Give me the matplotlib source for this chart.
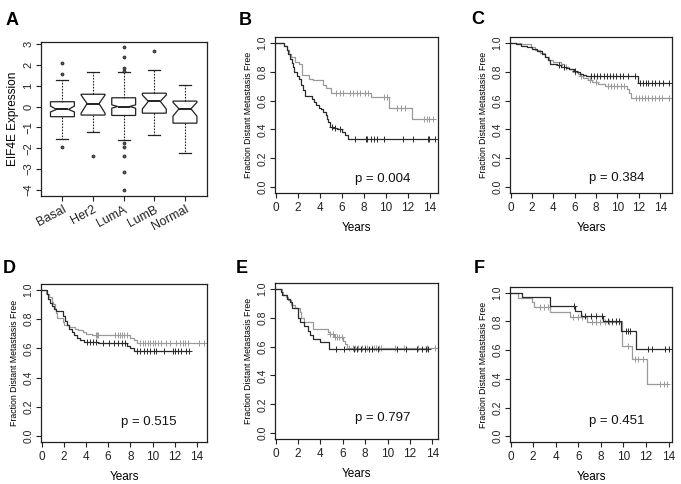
import numpy as np
import matplotlib
matplotlib.use('Agg')
import matplotlib.pyplot as plt

plt.rcParams['font.family'] = ['Liberation Sans', 'DejaVu Sans']

# ---- panel A: EIF4E expression by subtype (notched boxplot) ----
subtypes = ['Basal', 'Her2', 'LumA', 'LumB', 'Normal']
box_q1 = [-0.49, -0.41, -0.43, -0.32, -0.80]
box_med = [-0.14, 0.14, 0.0, 0.25, -0.11]
box_q3 = [0.23, 0.59, 0.42, 0.64, 0.26]
whisk_lo = [-1.54, -1.22, -1.62, -1.36, -2.23]
whisk_hi = [1.27, 1.68, 1.68, 1.75, 1.02]
notch_lo = [-0.26, -0.32, -0.08, -0.12, -0.46]
notch_hi = [0.02, 0.55, 0.08, 0.55, 0.20]
outliers = [[2.10, 1.58, -1.96],
            [-2.39],
            [2.84, 2.36, 1.87, 1.72, -1.75, -1.95, -2.36, -3.15, -4.0],
            [2.68],
            []]

# ---- panels B-F: Kaplan-Meier curves (step times, survival, censor times) ----
km = {
    'B': dict(
        gray_t=[0, 0.8, 1.0, 1.2, 1.4, 1.8, 2.1, 2.4, 3.0, 3.4, 4.3, 4.6, 5.0, 8.7, 10.25, 12.4],
        gray_s=[1.0, 0.98, 0.95, 0.92, 0.90, 0.87, 0.85, 0.78, 0.75, 0.74, 0.71, 0.69, 0.655, 0.625, 0.545, 0.475],
        gray_c=[5.5, 5.85, 6.15, 6.75, 7.06, 7.4, 7.7, 8.1, 8.36, 9.8, 10.1, 11.0, 11.36, 11.76, 13.5, 13.7, 13.9, 14.3],
        black_t=[0, 0.8, 1.0, 1.1, 1.3, 1.45, 1.55, 1.7, 1.9, 2.1, 2.3, 2.5, 2.7, 3.3, 3.5, 3.7, 3.9, 4.1, 4.3,
                 4.6, 4.7, 4.8, 4.95, 5.2, 5.6, 6.0, 6.3, 6.6],
        black_s=[1.0, 0.98, 0.95, 0.92, 0.89, 0.86, 0.83, 0.80, 0.77, 0.75, 0.71, 0.67, 0.63, 0.61, 0.59, 0.57,
                 0.55, 0.54, 0.52, 0.50, 0.47, 0.45, 0.42, 0.41, 0.40, 0.385, 0.36, 0.335],
        black_c=[5.1, 5.4, 5.8, 7.2, 8.2, 8.3, 8.7, 8.9, 9.2, 9.8, 11.6, 12.5, 13.8, 13.9, 14.5],
        p='p = 0.004', p_pos=(0.49, 0.09), xmax=14.73),
    'C': dict(
        gray_t=[0, 1.0, 1.9, 2.3, 2.8, 3.2, 3.6, 4.0, 4.7, 5.0, 5.5, 5.8, 6.3, 6.5, 6.8, 7.2, 7.6, 8.2, 8.8,
                10.9, 11.1, 11.3],
        gray_s=[1.0, 0.99, 0.97, 0.95, 0.93, 0.90, 0.88, 0.865, 0.85, 0.835, 0.82, 0.80, 0.785, 0.77, 0.755,
                0.74, 0.725, 0.715, 0.70, 0.68, 0.655, 0.615],
        gray_c=[5.2, 6.0, 6.6, 7.4, 8.0, 9.1, 9.4, 9.7, 10.0, 10.3, 10.6, 11.7, 12.0, 12.3, 12.6, 12.9, 13.2,
                13.5, 13.9, 14.2, 14.8],
        black_t=[0, 0.5, 1.0, 1.5, 2.0, 2.5, 2.9, 3.2, 3.5, 3.7, 4.3, 4.7, 5.2, 5.5, 5.9, 6.2, 6.5, 6.8, 7.1, 11.9],
        black_s=[1.0, 0.99, 0.98, 0.97, 0.955, 0.94, 0.92, 0.90, 0.88, 0.855, 0.845, 0.835, 0.825, 0.815,
                 0.805, 0.795, 0.785, 0.778, 0.77, 0.72],
        black_c=[4.5, 5.0, 6.0, 7.5, 7.8, 8.1, 8.4, 8.7, 9.0, 9.3, 9.6, 9.9, 10.2, 10.5, 11.0, 11.6, 12.1,
                 12.4, 12.7, 12.9, 13.2, 13.5, 13.9, 14.3, 14.8],
        p='p = 0.384', p_pos=(0.49, 0.096), xmax=15.1),
    'D': dict(
        gray_t=[0, 0.4, 0.7, 0.9, 1.0, 1.2, 1.3, 1.4, 1.9, 2.0, 2.5, 3.0, 3.3, 3.7, 4.0, 4.5, 8.0, 8.3, 8.6],
        gray_s=[1.0, 0.97, 0.95, 0.92, 0.90, 0.87, 0.84, 0.81, 0.78, 0.76, 0.745, 0.735, 0.725, 0.71, 0.70,
                0.69, 0.67, 0.655, 0.64],
        gray_c=[4.9, 5.0, 5.1, 6.6, 6.9, 7.1, 7.2, 7.4, 7.7, 8.9, 9.1, 9.3, 9.6, 9.8, 10.0, 10.2, 10.5, 10.8,
                11.2, 11.6, 12.1, 12.5, 12.7, 12.9, 13.2, 14.2, 14.6],
        black_t=[0, 0.5, 0.6, 0.8, 0.95, 1.1, 1.3, 1.95, 2.1, 2.3, 2.5, 2.7, 2.9, 3.2, 3.5, 3.8, 5.1, 7.7,
                 8.0, 8.3],
        black_s=[1.0, 0.97, 0.94, 0.91, 0.89, 0.87, 0.855, 0.82, 0.79, 0.76, 0.73, 0.71, 0.69, 0.67, 0.655,
                 0.645, 0.635, 0.615, 0.60, 0.585],
        black_c=[4.1, 4.4, 4.6, 4.9, 5.5, 6.1, 6.5, 6.9, 7.2, 7.5, 8.6, 8.9, 9.2, 9.5, 9.8, 10.1, 10.3, 11.0,
                 11.8, 12.0, 12.3, 12.6, 13.0, 13.3],
        p='p = 0.515', p_pos=(0.48, 0.128), xmax=14.9),
    'E': dict(
        gray_t=[0, 0.6, 0.7, 0.9, 1.1, 1.4, 1.7, 2.2, 2.3, 2.5, 3.3, 4.7, 4.9, 5.2, 6.0, 6.2, 6.4],
        gray_s=[1.0, 0.98, 0.96, 0.94, 0.92, 0.89, 0.87, 0.84, 0.80, 0.77, 0.72, 0.70, 0.685, 0.665, 0.64,
                0.62, 0.59],
        gray_c=[4.9, 5.1, 5.3, 5.5, 5.7, 5.9, 6.6, 6.9, 7.1, 7.4, 7.7, 8.0, 8.2, 8.6, 8.8, 9.0, 9.2, 9.4,
                10.7, 11.5, 12.7, 13.5, 14.2],
        black_t=[0, 0.5, 0.6, 1.0, 1.3, 1.5, 2.0, 2.2, 2.5, 2.9, 3.1, 3.3, 4.0, 4.8],
        black_s=[1.0, 0.975, 0.955, 0.93, 0.91, 0.87, 0.80, 0.77, 0.74, 0.71, 0.68, 0.655, 0.635, 0.58],
        black_c=[5.4, 6.1, 7.0, 7.3, 7.6, 8.0, 8.3, 8.6, 9.1, 10.8, 11.6, 12.6, 13.1, 13.4, 13.6],
        p='p = 0.797', p_pos=(0.49, 0.135), xmax=14.5),
    'F': dict(
        gray_t=[0, 0.7, 1.9, 2.1, 3.5, 5.3, 6.8, 9.9, 10.8, 12.1],
        gray_s=[1.0, 0.965, 0.935, 0.90, 0.865, 0.83, 0.795, 0.63, 0.54, 0.365],
        gray_c=[2.6, 3.0, 3.3, 5.5, 6.0, 6.3, 7.2, 7.6, 7.9, 8.4, 8.7, 9.0, 9.3, 9.6, 10.4, 11.0, 11.3, 11.7,
                13.2, 13.6, 13.9],
        black_t=[0, 1.0, 3.5, 5.7, 6.2, 8.2, 9.8, 11.1],
        black_s=[1.0, 0.97, 0.905, 0.87, 0.835, 0.80, 0.73, 0.61],
        black_c=[5.6, 6.6, 7.1, 7.6, 8.1, 8.6, 9.0, 9.3, 9.6, 10.2, 10.4, 10.6, 12.2, 12.5, 13.7, 14.0],
        p='p = 0.451', p_pos=(0.49, 0.137), xmax=14.3),
}

# axes boxes in pixels: left, top, right, bottom
W, H = 681, 484
boxes = {
    'A': (41, 42, 207, 196),
    'B': (275, 37, 438, 193),
    'C': (510, 37, 672, 193),
    'D': (41, 284, 207, 442),
    'E': (275, 283, 438, 439),
    'F': (510, 287, 672, 442),
}
letters = {'A': (6, 25), 'B': (239, 25), 'C': (471, 24), 'D': (3, 273), 'E': (236, 273), 'F': (474, 273)}

GRAY = '#9a9a9a'
DARK = '#2a2a2a'


def make_ax(fig, key):
    l, t, r, b = boxes[key]
    ax = fig.add_axes([l / W, 1 - b / H, (r - l) / W, (b - t) / H])
    for sp in ax.spines.values():
        sp.set_linewidth(0.9)
        sp.set_color('#222222')
    ax.tick_params(direction='out', length=3.5, width=0.8, colors='#222222', pad=2)
    return ax


def rotate_y(ax, size):
    ax.tick_params(axis='y', labelrotation=90, labelsize=size)
    for lbl in ax.get_yticklabels():
        lbl.set_va('center')


def step_at(times, surv, t):
    return surv[np.searchsorted(times, t, side='right') - 1]


fig = plt.figure(figsize=(W / 100, H / 100), dpi=100)

# panel A
ax = make_ax(fig, 'A')
stats = []
for i, name in enumerate(subtypes):
    stats.append(dict(label=name, med=box_med[i], q1=box_q1[i], q3=box_q3[i],
                      whislo=whisk_lo[i], whishi=whisk_hi[i],
                      cilo=notch_lo[i], cihi=notch_hi[i], fliers=outliers[i]))
ax.bxp(stats, positions=range(1, 6), widths=0.78, shownotches=True, patch_artist=True,
       boxprops=dict(facecolor='white', edgecolor='#222222', linewidth=0.9),
       medianprops=dict(color='#222222', linewidth=1.4),
       whiskerprops=dict(color='#222222', linewidth=0.8, linestyle=(0, (1.5, 1.2))),
       capprops=dict(color='#222222', linewidth=0.9),
       flierprops=dict(marker='o', markersize=2.2, markerfacecolor='#555555',
                       markeredgecolor='#222222', markeredgewidth=0.5))
ax.set_xlim(0.3, 5.72)
ax.set_ylim(-4.3, 3.1)
ax.set_yticks(range(-4, 4))
ax.set_xticks(range(1, 6))
ax.set_xticklabels(subtypes, rotation=28, ha='right', rotation_mode='anchor', fontsize=9)
rotate_y(ax, 8)
ax.set_ylabel('EIF4E Expression', fontsize=8.5, labelpad=3)

# panels B-F
for key in ['B', 'C', 'D', 'E', 'F']:
    d = km[key]
    ax = make_ax(fig, key)
    for col, t, s, c in [(GRAY, d['gray_t'], d['gray_s'], d['gray_c']),
                         (DARK, d['black_t'], d['black_s'], d['black_c'])]:
        t = np.array(t)
        s = np.array(s)
        tend = max(max(c), t[-1])
        ax.step(np.append(t, tend), np.append(s, s[-1]), where='post', color=col, lw=0.9)
        cy = [step_at(t, s, x) for x in c]
        ax.plot(c, cy, ls='none', marker='+', ms=4, mew=0.7, color=col)
    ax.set_xlim(-0.05, d['xmax'])
    ax.set_ylim(-0.04, 1.04)
    ax.set_xticks(range(0, 15, 2))
    ax.set_yticks(np.arange(0, 1.01, 0.2))
    ax.set_yticklabels(['0.0', '0.2', '0.4', '0.6', '0.8', '1.0'])
    ax.tick_params(axis='x', labelsize=8.5, pad=3)
    rotate_y(ax, 7.5)
    ax.set_xlabel('Years', fontsize=8.5, labelpad=6)
    ax.set_ylabel('Fraction Distant Metastasis Free', fontsize=6.3, labelpad=3)
    ax.text(d['p_pos'][0], d['p_pos'][1], d['p'], transform=ax.transAxes,
            fontsize=9.5, ha='left', va='center', color='#111111')

for key, (x, y) in letters.items():
    fig.text(x / W, 1 - y / H, key, fontsize=13, fontweight='bold', ha='left', va='baseline')

fig.savefig('out.png', dpi=100)
